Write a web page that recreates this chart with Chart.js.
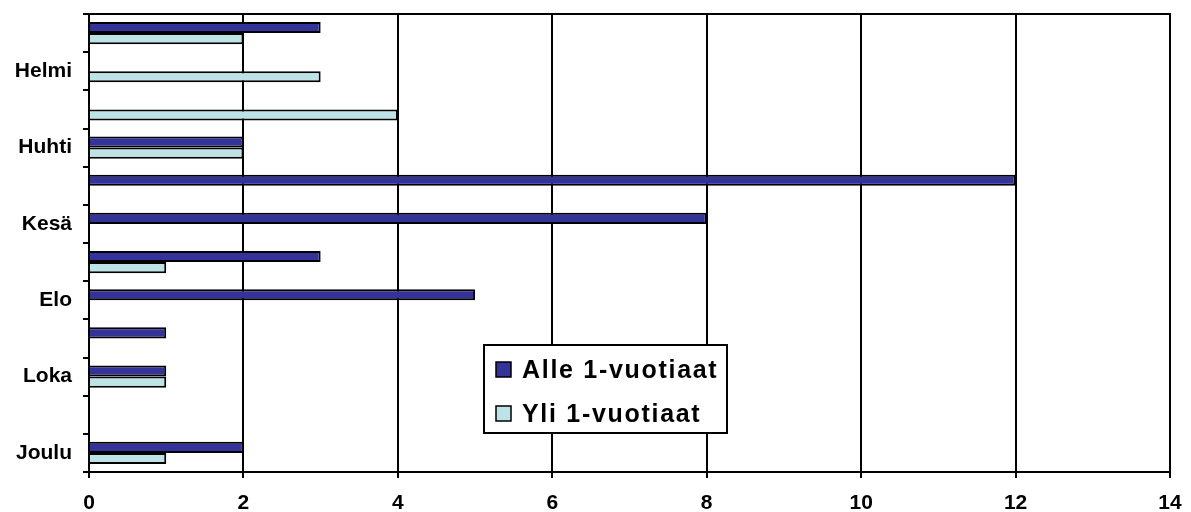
<!DOCTYPE html>
<html>
<head>
<meta charset="utf-8">
<script src="https://cdn.jsdelivr.net/npm/chart.js@4/dist/chart.umd.min.js"></script>
<style>
  html, body { margin: 0; padding: 0; background: #ffffff; }
  #wrap { width: 1191px; height: 512px; }
</style>
</head>
<body>
<div id="wrap"><canvas id="c" width="1191" height="512"></canvas></div>
<script>
// Monthly counts, split by age group
const months = ['Tammi', 'Helmi', 'Maalis', 'Huhti', 'Touko', 'Kesä', 'Heinä', 'Elo', 'Syys', 'Loka', 'Marras', 'Joulu'];
const alle = [3, 0, 0, 2, 12, 8, 3, 5, 1, 1, 0, 2];
const yli  = [2, 3, 4, 2, 0, 0, 1, 0, 0, 1, 0, 1];
const seriesNames = ['Alle 1-vuotiaat', 'Yli 1-vuotiaat'];
const xMin = 0, xMax = 14, xStep = 2;

const DARK = '#333399';
const LIGHT = '#BEE3E6';
const FONT = '"Liberation Sans", Arial, sans-serif';

// Frame around the plot area
const frame = {
  id: 'frame',
  afterDatasetsDraw(chart) {
    const a = chart.chartArea, ctx = chart.ctx;
    ctx.save();
    ctx.strokeStyle = '#000';
    ctx.lineWidth = 2;
    ctx.strokeRect(a.left, a.top, a.right - a.left, a.bottom - a.top);
    ctx.restore();
  }
};

// Boxed legend placed inside the plot area
const boxLegend = {
  id: 'boxLegend',
  afterDraw(chart) {
    const ctx = chart.ctx;
    const bx = 484, by = 345, bw = 243, bh = 88;
    ctx.save();
    ctx.fillStyle = '#fff';
    ctx.fillRect(bx, by, bw, bh);
    ctx.strokeStyle = '#000';
    ctx.lineWidth = 2;
    ctx.strokeRect(bx, by, bw, bh);
    ctx.font = 'bold 25px ' + FONT;
    ctx.textBaseline = 'middle';
    ctx.letterSpacing = '1.7px';
    chart.data.datasets.forEach((ds, i) => {
      const cy = by + 25 + i * 44;
      ctx.fillStyle = ds.backgroundColor;
      ctx.fillRect(496, cy - 8, 15, 15);
      ctx.lineWidth = 1.5;
      ctx.strokeRect(496, cy - 8, 15, 15);
      ctx.fillStyle = '#000';
      ctx.fillText(ds.label, 522, cy + 1);
    });
    ctx.restore();
  }
};

new Chart(document.getElementById('c'), {
  type: 'bar',
  data: {
    labels: months,
    datasets: [
      { label: seriesNames[0], data: alle, backgroundColor: DARK },
      { label: seriesNames[1], data: yli, backgroundColor: LIGHT }
    ]
  },
  options: {
    indexAxis: 'y',
    responsive: false,
    animation: false,
    devicePixelRatio: 1,
    layout: { padding: { top: 14, right: 21, left: 0, bottom: 0 } },
    datasets: {
      bar: {
        borderColor: '#000',
        borderWidth: 2,
        borderSkipped: 'start',
        categoryPercentage: 0.58,
        barPercentage: 1
      }
    },
    plugins: {
      legend: { display: false },
      tooltip: { enabled: false }
    },
    scales: {
      x: {
        min: xMin,
        max: xMax,
        afterFit(scale) { scale.height = 40; scale.paddingLeft = 0; scale.paddingRight = 0; },
        ticks: {
          stepSize: xStep,
          color: '#000',
          font: { family: FONT, size: 21, weight: 'bold' },
          padding: 13
        },
        grid: { color: '#000', lineWidth: 2, tickLength: 6 },
        border: { color: '#000', width: 2 }
      },
      y: {
        offset: true,
        afterFit(scale) { scale.width = 89; scale.paddingTop = 0; scale.paddingBottom = 0; },
        ticks: {
          autoSkip: false,
          color: '#000',
          font: { family: FONT, size: 21, weight: 'bold' },
          padding: 11,
          callback(v, i) { return i % 2 === 1 ? months[i] : ''; }
        },
        grid: { offset: true, drawOnChartArea: false, color: '#000', lineWidth: 2, tickLength: 6 },
        border: { color: '#000', width: 2 }
      }
    }
  },
  plugins: [frame, boxLegend]
});
</script>
</body>
</html>
